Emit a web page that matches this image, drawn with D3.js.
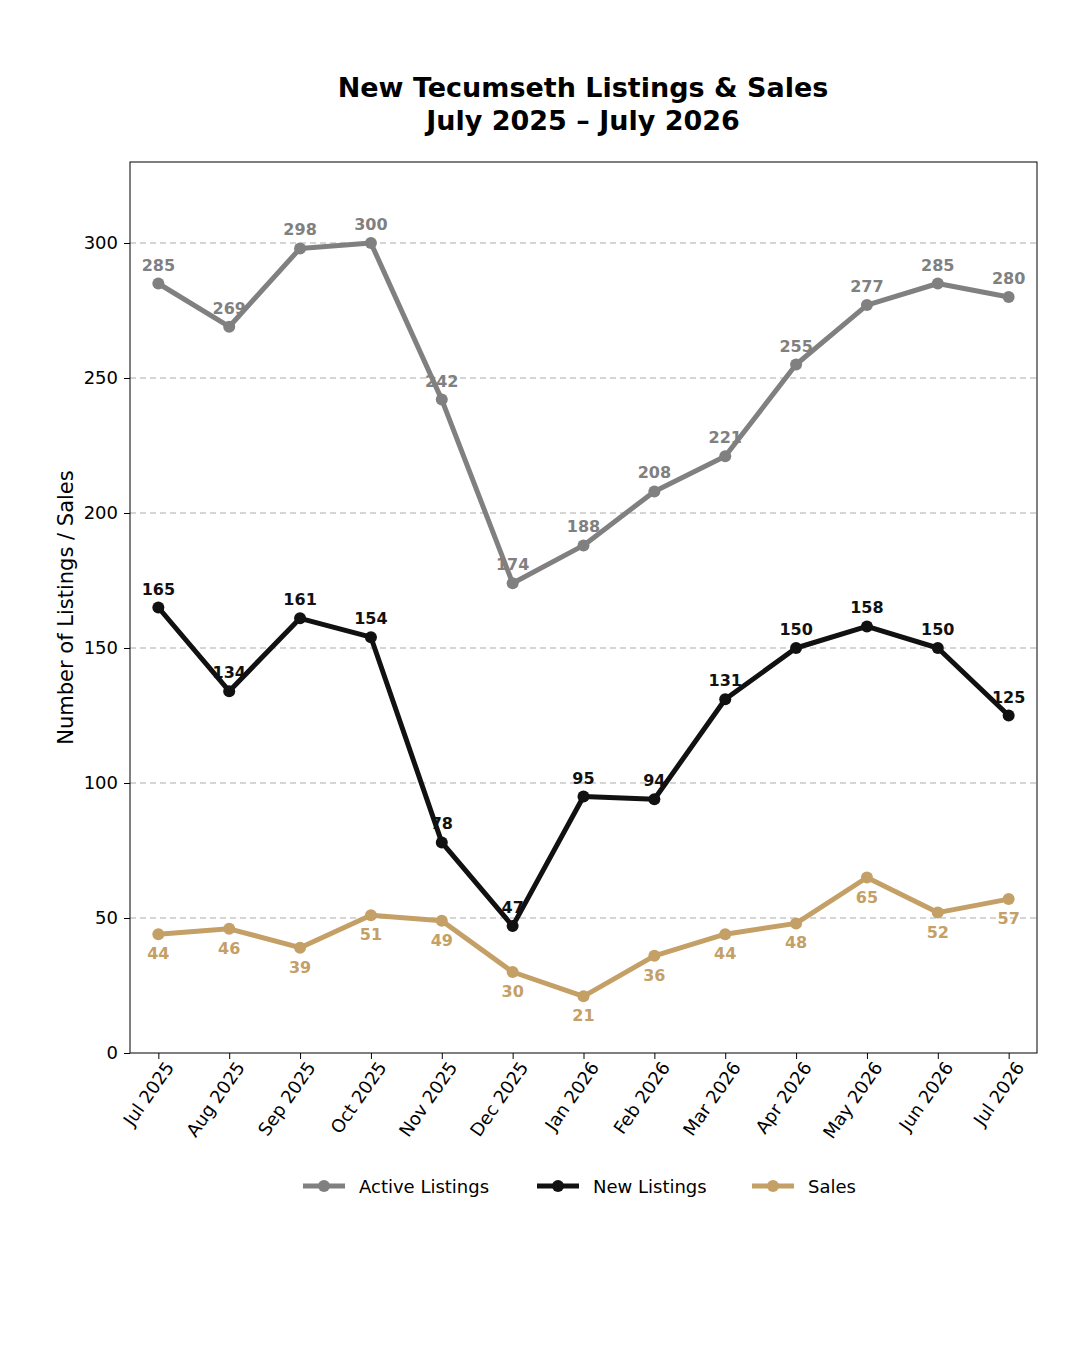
<!DOCTYPE html>
<html>
<head>
<meta charset="utf-8">
<script src="https://cdn.jsdelivr.net/npm/d3@7"></script>
<style>
  body { margin: 0; background: #fff; }
  text { font-family: "DejaVu Sans", sans-serif; }
</style>
</head>
<body>
<div id="chart"></div>
<script>
const months = ['Jul 2025', 'Aug 2025', 'Sep 2025', 'Oct 2025', 'Nov 2025', 'Dec 2025', 'Jan 2026',
	'Feb 2026', 'Mar 2026', 'Apr 2026', 'May 2026', 'Jun 2026', 'Jul 2026'];
const active = [285, 269, 298, 300, 242, 174, 188, 208, 221, 255, 277, 285, 280];
const newListings = [165, 134, 161, 154, 78, 47, 95, 94, 131, 150, 158, 150, 125];
const sales = [44, 46, 39, 51, 49, 30, 21, 36, 44, 48, 65, 52, 57];
const yTicks = [0, 50, 100, 150, 200, 250, 300];

const series = [
	{ name: 'Active Listings', values: active, color: '#808080', dy: -13 },
	{ name: 'New Listings', values: newListings, color: '#111111', dy: -13 },
	{ name: 'Sales', values: sales, color: '#c4a067', dy: 25 },
];

const W = 1080, H = 1350;
const mLeft = 130, mRight = 1037, mTop = 162, mBottom = 1053;

const svg = d3.select('#chart').append('svg').attr('width', W).attr('height', H);

const x = d3.scalePoint().domain(months).range([mLeft, mRight]).padding(0.4);
const y = d3.scaleLinear().domain([0, 330]).range([mBottom, mTop]);

// grid
svg.append('g')
	.selectAll('line')
	.data(yTicks.filter((d) => d > 0))
	.enter()
	.append('line')
	.attr('x1', mLeft).attr('x2', mRight)
	.attr('y1', (d) => y(d)).attr('y2', (d) => y(d))
	.attr('stroke', '#c8c8c8').attr('stroke-width', 1.5).attr('stroke-dasharray', '6,4');

// axes
const yAxis = svg.append('g').attr('transform', `translate(${mLeft},0)`)
	.call(d3.axisLeft(y).tickValues(yTicks).tickSize(6).tickPadding(6));
yAxis.select('.domain').remove();
yAxis.selectAll('text').attr('font-size', 18).attr('fill', '#000');

const xAxis = svg.append('g').attr('transform', `translate(0,${mBottom})`)
	.call(d3.axisBottom(x).tickSize(6));
xAxis.select('.domain').remove();
xAxis.selectAll('text')
	.attr('font-size', 18).attr('fill', '#000')
	.attr('text-anchor', 'end')
	.attr('dx', '0.3em').attr('dy', '0.9em')
	.attr('transform', 'rotate(-55) translate(-8,-4)');

svg.append('rect')
	.attr('x', mLeft).attr('y', mTop).attr('width', mRight - mLeft).attr('height', mBottom - mTop)
	.attr('fill', 'none').attr('stroke', '#000').attr('stroke-width', 1);

// lines
const line = d3.line().x((d, i) => x(months[i])).y((d) => y(d));

series.forEach((s) => {
	svg.append('path').datum(s.values)
		.attr('d', line).attr('fill', 'none')
		.attr('stroke', s.color).attr('stroke-width', 5).attr('stroke-linejoin', 'round');

	svg.append('g').selectAll('circle').data(s.values).enter().append('circle')
		.attr('cx', (d, i) => x(months[i])).attr('cy', (d) => y(d))
		.attr('r', 6).attr('fill', s.color);

	svg.append('g').selectAll('text').data(s.values).enter().append('text')
		.attr('x', (d, i) => x(months[i])).attr('y', (d) => y(d) + s.dy)
		.attr('text-anchor', 'middle').attr('font-size', 16).attr('font-weight', 'bold')
		.attr('fill', s.color).text((d) => d);
});

// title
svg.append('text').attr('x', 583).attr('y', 97).attr('text-anchor', 'middle')
	.attr('font-size', 27).attr('font-weight', 'bold').text('New Tecumseth Listings & Sales');
svg.append('text').attr('x', 583).attr('y', 130).attr('text-anchor', 'middle')
	.attr('font-size', 27).attr('font-weight', 'bold').text('July 2025 – July 2026');

// y label
svg.append('text')
	.attr('transform', `translate(73,${(mTop + mBottom) / 2}) rotate(-90)`)
	.attr('text-anchor', 'middle').attr('font-size', 21).text('Number of Listings / Sales');

// legend
const legendX = [303, 537, 752];
series.forEach((s, i) => {
	const g = svg.append('g').attr('transform', `translate(${legendX[i]},1186)`);
	g.append('line').attr('x1', 0).attr('x2', 42).attr('stroke', s.color).attr('stroke-width', 5);
	g.append('circle').attr('cx', 21).attr('r', 6).attr('fill', s.color);
	g.append('text').attr('x', 56).attr('y', 6.5).attr('font-size', 18).text(s.name);
});
</script>
</body>
</html>
